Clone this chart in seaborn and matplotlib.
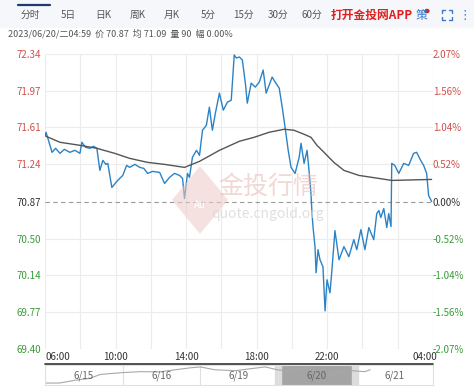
import numpy as np
import pandas as pd
import seaborn as sns
import matplotlib.pyplot as plt
from matplotlib.patches import Polygon, Rectangle

sns.set_style('white')
plt.rcParams['font.family'] = ['Noto Sans CJK SC', 'DejaVu Sans']

# intraday price, hours after 06:00
hours = [0.00, 0.06, 0.40, 0.60, 0.85, 1.10, 1.41, 1.70, 1.98, 2.09, 2.30, 2.54, 2.75, 2.94,
         3.11, 3.28, 3.45, 3.56, 3.79, 4.12, 4.41, 4.63, 4.80, 5.10, 5.37, 5.60, 5.82, 6.10,
         6.50, 6.78, 7.06, 7.34, 7.63, 7.80, 7.91, 8.08, 8.19, 8.36, 8.59, 8.76, 8.93, 9.15,
         9.32, 9.49, 9.66, 9.89, 10.11, 10.34, 10.56, 10.73, 10.85, 11.02, 11.19, 11.36, 11.47,
         11.69, 11.92, 12.15, 12.37, 12.54, 12.88, 13.05, 13.28, 13.45, 13.62, 13.79, 13.95,
         14.18, 14.41, 14.52, 14.69, 14.86, 14.97, 15.08, 15.14, 15.20, 15.31, 15.37, 15.48,
         15.59, 15.76, 15.88, 15.99, 16.16, 16.27, 16.44, 16.67, 16.95, 17.23, 17.51, 17.68,
         17.91, 18.14, 18.36, 18.64, 18.81, 18.93, 19.04, 19.21, 19.38, 19.49, 19.62, 19.66,
         19.83, 20.06, 20.34, 20.62, 20.90, 21.07, 21.30, 21.47, 21.64, 21.75, 21.92]
price = [71.53, 71.56, 71.36, 71.40, 71.35, 71.39, 71.36, 71.38, 71.35, 71.46, 71.41, 71.40, 71.42, 71.40,
         71.18, 71.28, 71.24, 71.25, 71.01, 71.08, 71.13, 71.23, 71.21, 71.24, 71.21, 71.20, 71.15, 71.17,
         71.16, 71.05, 71.11, 71.15, 71.13, 71.10, 70.90, 71.15, 71.11, 71.31, 71.38, 71.33, 71.58, 71.63,
         71.81, 71.58, 71.75, 71.95, 71.78, 71.86, 71.88, 72.33, 72.30, 72.31, 72.28, 72.05, 71.85,
         72.05, 72.01, 72.06, 72.18, 71.95, 72.11, 72.06, 72.00, 71.81, 71.60, 71.38, 71.21,
         71.15, 71.31, 71.45, 71.25, 71.38, 71.18, 70.95, 70.75, 70.61, 70.42, 70.16, 70.39,
         70.29, 70.22, 69.78, 70.09, 69.96, 70.19, 70.58, 70.29, 70.42, 70.32, 70.49, 70.39,
         70.59, 70.39, 70.61, 70.49, 70.75, 70.78, 70.71, 70.80, 70.61, 70.75, 70.62, 71.25,
         71.23, 71.15, 71.25, 71.23, 71.35, 71.36, 71.28, 71.23, 71.15, 70.93, 70.87]

avg_hours = [0.00, 0.06, 0.85, 1.98, 2.94, 3.95, 4.80, 5.82, 6.78, 7.91, 8.76, 9.89, 11.02, 11.86,
             12.71, 13.56, 14.12, 14.69, 15.08, 15.42, 15.82, 16.38, 16.95, 17.80, 18.93, 19.66, 21.92]
avg_price = [71.53, 71.52, 71.46, 71.43, 71.40, 71.35, 71.30, 71.26, 71.24, 71.21, 71.27, 71.38, 71.47, 71.51,
             71.56, 71.59, 71.58, 71.54, 71.51, 71.43, 71.36, 71.26, 71.18, 71.13, 71.10, 71.08, 71.09]

left_ticks = [72.34, 71.97, 71.61, 71.24, 70.87, 70.50, 70.14, 69.77, 69.40]
right_labels = ['2.07%', '1.56%', '1.04%', '0.52%', '0.00%', '-0.52%', '-1.04%', '-1.56%', '-2.07%']
x_ticks = [0, 4, 8, 12, 16, 22]
x_labels = ['06:00', '10:00', '14:00', '18:00', '22:00', '04:00']
prev_close = 70.87

tabs = ['分时', '5日', '日K', '周K', '月K', '5分', '15分', '30分', '60分']
info_text = '2023/06/20/二04:59  价 70.87  均 71.09  量 90  幅 0.00%'

# 5-day navigator strip
nav_days = [0, 0.19, 0.39, 0.58, 0.71, 0.84, 1.0, 1.22, 1.48, 1.68, 1.87, 2.0, 2.19, 2.45, 2.64, 2.84,
            2.99, 3.09, 3.29, 3.41, 3.54, 3.61, 3.74, 3.87, 3.96, 4.12, 4.19]
nav_price = [68.93, 68.95, 69.58, 70.0, 70.86, 71.07, 71.29, 71.50, 71.45, 71.93, 72.36, 72.57, 71.93, 71.72,
             72.14, 72.57, 71.93, 71.72, 72.14, 72.36, 71.50, 70.43, 71.07, 71.50, 71.72, 71.50, 71.93]
nav_labels = ['6/15', '6/16', '6/19', '6/20', '6/21']

RED = '#d0504a'
GREEN = '#3a9a3a'
W, H = 474, 391

fig = plt.figure(figsize=(4.74, 3.91), dpi=100)

def fx(px):
    return px / W

def fy(py):
    return 1 - py / H

ax = fig.add_axes([fx(45), fy(349), fx(433) - fx(45), fy(54) - fy(349)])
df = pd.DataFrame({'h': hours, 'p': price})
avg = pd.DataFrame({'h': avg_hours, 'p': avg_price})
sns.lineplot(data=df, x='h', y='p', ax=ax, color='#2b83c6', lw=1.0)
sns.lineplot(data=avg, x='h', y='p', ax=ax, color='#555555', lw=1.0)
ax.set_xlim(0, 22)
ax.set_ylim(69.40, 72.34)
ax.set_xlabel('')
ax.set_ylabel('')
for s in ax.spines.values():
    s.set_visible(False)
for t in left_ticks:
    if t == prev_close:
        ax.axhline(t, color='#9a9a9a', lw=0.8, ls=(0, (4, 3)), zorder=1)
    else:
        ax.axhline(t, color='#ececec', lw=0.8, zorder=0)
for v in range(0, 23, 2):
    ax.axvline(v, color='#ececec', lw=0.8, zorder=0)
ax.set_yticks(left_ticks)
ax.set_yticklabels([f'{t:.2f}' for t in left_ticks], fontsize=7)
ax.tick_params(axis='y', length=0, pad=3)
for lab, t in zip(ax.get_yticklabels(), left_ticks):
    lab.set_color(RED if t > prev_close else GREEN if t < prev_close else '#333333')
ax.set_xticks([])

ax2 = ax.twinx()
ax2.set_ylim(69.40, 72.34)
ax2.set_yticks(left_ticks)
ax2.set_yticklabels(right_labels, fontsize=7)
ax2.tick_params(axis='y', length=0, pad=0)
for s in ax2.spines.values():
    s.set_visible(False)
for lab, t in zip(ax2.get_yticklabels(), left_ticks):
    lab.set_color(RED if t > prev_close else GREEN if t < prev_close else '#333333')

# x labels
for t, lab in zip(x_ticks, x_labels):
    ha = 'left' if t == 0 else 'right' if t == 22 else 'center'
    xpx = 45 + t * (388 / 22) + (4 if t == 22 else 0)
    fig.text(fx(xpx), fy(357), lab, fontsize=7, color='#333333', ha=ha, va='center')
fig.add_artist(plt.Line2D([fx(45), fx(433)], [fy(364), fy(364)], color='#333333', lw=1.2))

# watermark
fig.text(fx(268), fy(187), '金投行情', fontsize=18, color='#e8b8b4', alpha=0.55, ha='center', va='center')
fig.text(fx(268), fy(214), 'quote.cngold.org', fontsize=10, color='#d8d8d8', alpha=0.8, ha='center', va='center')
fig.add_artist(Polygon([[fx(200), fy(166)], [fx(228), fy(200)], [fx(200), fy(234)], [fx(172), fy(200)]],
                       closed=True, transform=fig.transFigure, color='#eecbc8', alpha=0.55, lw=0))
fig.text(fx(200), fy(205), 'Au', fontsize=7, color='white', ha='center', va='center')

# navigator
nav = fig.add_axes([fx(45), fy(385), fx(433) - fx(45), fy(365) - fy(385)])
sns.lineplot(x=nav_days, y=nav_price, ax=nav, color='#a8a8a8', lw=0.8)
nav.set_xlim(0, 5)
nav.set_ylim(68.5, 73.0)
nav.axvspan(3.04, 3.96, color='#a4a4a4', zorder=0)
nav.axvspan(2.97, 3.04, color='#dcdcdc', zorder=0)
nav.axvspan(3.96, 4.03, color='#dcdcdc', zorder=0)
for d in [1, 2, 3]:
    nav.axvline(d, color='#e0e0e0', lw=0.8, zorder=0)
for i, lab in enumerate(nav_labels):
    nav.text(i + 0.5, 70.5, lab, fontsize=7, color='#666666', ha='center', va='center')
nav.set_xticks([])
nav.set_yticks([])
nav.set_xlabel('')
for s in nav.spines.values():
    s.set_color('#e0e0e0')
    s.set_linewidth(0.8)

# header tabs
fig.add_artist(Rectangle((0, fy(27)), 1, 1 - fy(27), transform=fig.transFigure, color='#f5f7fa', zorder=0))
fig.add_artist(plt.Line2D([fx(18), fx(50)], [fy(5), fy(5)], color='#1f3b6e', lw=1.6))
tab_x = [30, 68, 103, 138, 172, 208, 243, 278, 312]
for x, t in zip(tab_x, tabs):
    fig.text(fx(x), fy(15), t, fontsize=7, color='#555555', ha='center', va='center')
fig.text(fx(331), fy(15), '打开金投网APP', fontsize=8.5, color='#e02020', fontweight='bold', ha='left', va='center')
fig.text(fx(421), fy(16), '策', fontsize=8.5, color='#3a7ac8', ha='center', va='center')
fig.add_artist(plt.Circle((fx(427), fy(11)), 0.004, transform=fig.transFigure, color='#e02020'))
# fullscreen icon: four corner brackets
for cx, cy, dx, dy in [(442, 10, 1, 1), (452, 10, -1, 1), (442, 20, 1, -1), (452, 20, -1, -1)]:
    fig.add_artist(plt.Line2D([fx(cx), fx(cx), fx(cx + 3 * dx)], [fy(cy + 3 * dy), fy(cy), fy(cy)],
                              color='#3a7ac8', lw=1.0))
fig.text(fx(465), fy(15), '⋮', fontsize=9, color='#3a7ac8', ha='center', va='center', family=['DejaVu Sans'])
fig.text(fx(8), fy(34), info_text, fontsize=6.5, color='#555555', ha='left', va='center')

fig.savefig('out.png', dpi=100)
